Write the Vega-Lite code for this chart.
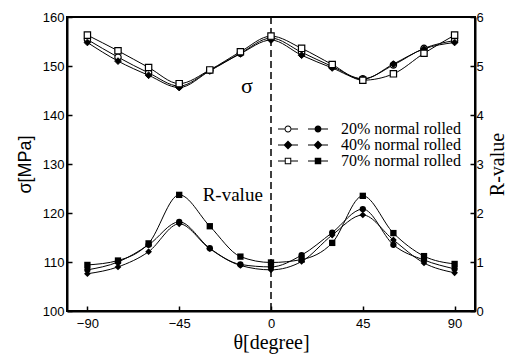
{
  "$schema": "https://vega.github.io/schema/vega-lite/v6.json",
  "width": 408,
  "height": 294,
  "autosize": {"type": "none"},
  "padding": {"left": 67, "top": 17, "right": 43, "bottom": 52},
  "background": "white",
  "config": {
    "view": {"stroke": "black", "strokeWidth": 2},
    "axis": {
      "domainColor": "black", "domainWidth": 2, "tickColor": "black", "tickWidth": 1.5, "tickSize": -5,
      "labelFont": "Liberation Sans", "labelFontSize": 13, "labelColor": "black", "grid": false, "labelOverlap": false,
      "titleColor": "black", "titleFontWeight": "normal"
    }
  },
  "data": {"values": [
    {"theta": -90, "series": "20% normal rolled", "sigma": 155.4, "R": 0.84},
    {"theta": -75, "series": "20% normal rolled", "sigma": 151.8, "R": 1.00},
    {"theta": -60, "series": "20% normal rolled", "sigma": 148.6, "R": 1.35},
    {"theta": -45, "series": "20% normal rolled", "sigma": 145.9, "R": 1.82},
    {"theta": -30, "series": "20% normal rolled", "sigma": 149.1, "R": 1.28},
    {"theta": -15, "series": "20% normal rolled", "sigma": 152.6, "R": 0.95},
    {"theta": 0, "series": "20% normal rolled", "sigma": 155.7, "R": 0.90},
    {"theta": 15, "series": "20% normal rolled", "sigma": 152.8, "R": 1.14},
    {"theta": 30, "series": "20% normal rolled", "sigma": 149.9, "R": 1.60},
    {"theta": 45, "series": "20% normal rolled", "sigma": 147.4, "R": 2.08},
    {"theta": 60, "series": "20% normal rolled", "sigma": 150.2, "R": 1.35},
    {"theta": 75, "series": "20% normal rolled", "sigma": 153.6, "R": 1.04},
    {"theta": 90, "series": "20% normal rolled", "sigma": 155.2, "R": 0.86},
    {"theta": -90, "series": "40% normal rolled", "sigma": 154.8, "R": 0.76},
    {"theta": -75, "series": "40% normal rolled", "sigma": 151.0, "R": 0.90},
    {"theta": -60, "series": "40% normal rolled", "sigma": 148.1, "R": 1.21},
    {"theta": -45, "series": "40% normal rolled", "sigma": 145.6, "R": 1.78},
    {"theta": -30, "series": "40% normal rolled", "sigma": 149.0, "R": 1.27},
    {"theta": -15, "series": "40% normal rolled", "sigma": 152.5, "R": 0.93},
    {"theta": 0, "series": "40% normal rolled", "sigma": 155.3, "R": 0.84},
    {"theta": 15, "series": "40% normal rolled", "sigma": 152.2, "R": 1.01},
    {"theta": 30, "series": "40% normal rolled", "sigma": 149.6, "R": 1.55},
    {"theta": 45, "series": "40% normal rolled", "sigma": 147.3, "R": 1.96},
    {"theta": 60, "series": "40% normal rolled", "sigma": 150.4, "R": 1.45},
    {"theta": 75, "series": "40% normal rolled", "sigma": 153.5, "R": 0.98},
    {"theta": 90, "series": "40% normal rolled", "sigma": 154.8, "R": 0.78},
    {"theta": -90, "series": "70% normal rolled", "sigma": 156.3, "R": 0.94},
    {"theta": -75, "series": "70% normal rolled", "sigma": 153.1, "R": 1.03},
    {"theta": -60, "series": "70% normal rolled", "sigma": 149.7, "R": 1.38},
    {"theta": -45, "series": "70% normal rolled", "sigma": 146.4, "R": 2.37},
    {"theta": -30, "series": "70% normal rolled", "sigma": 149.2, "R": 1.73},
    {"theta": -15, "series": "70% normal rolled", "sigma": 152.9, "R": 1.11},
    {"theta": 0, "series": "70% normal rolled", "sigma": 156.1, "R": 0.99},
    {"theta": 15, "series": "70% normal rolled", "sigma": 153.6, "R": 1.05},
    {"theta": 30, "series": "70% normal rolled", "sigma": 150.3, "R": 1.39},
    {"theta": 45, "series": "70% normal rolled", "sigma": 147.1, "R": 2.35},
    {"theta": 60, "series": "70% normal rolled", "sigma": 148.4, "R": 1.59},
    {"theta": 75, "series": "70% normal rolled", "sigma": 152.6, "R": 1.12},
    {"theta": 90, "series": "70% normal rolled", "sigma": 156.3, "R": 0.96}
  ]},
  "layer": [
    {
      "layer": [
        {
          "mark": {"type": "line", "color": "black", "strokeWidth": 1, "interpolate": "monotone"},
          "encoding": {
            "x": {
              "field": "theta", "type": "quantitative",
              "scale": {"domain": [-100, 100], "nice": false, "zero": false},
              "axis": {
                "values": [-90, -45, 0, 45, 90],
                "format": "d",
                "labelOverlap": false,
                "labelFlush": false,
                "labelPadding": 11,
                "title": "θ[degree]", "titleFont": "Liberation Serif", "titleFontSize": 20, "titlePadding": 2
              }
            },
            "y": {
              "field": "sigma", "type": "quantitative",
              "scale": {"domain": [100, 160], "nice": false, "zero": false},
              "axis": {
                "orient": "left",
                "values": [100, 105, 110, 115, 120, 125, 130, 135, 140, 145, 150, 155, 160],
                "labelExpr": "datum.value % 10 === 0 ? datum.label : ''",
                "labelOverlap": false,
                "labelPadding": 8,
                "title": "σ[MPa]", "titleFont": "Liberation Sans", "titleFontSize": 18, "titlePadding": 8
              }
            },
            "detail": {"field": "series"}
          }
        },
        {
          "transform": [{"filter": "datum.theta === 0 && datum.series === '20% normal rolled'"}],
          "mark": {"type": "rule", "color": "black", "strokeWidth": 1.5, "strokeDash": [7, 4]},
          "encoding": {"x": {"field": "theta", "type": "quantitative"}}
        },
        {
          "transform": [{"filter": "datum.series === '20% normal rolled'"}],
          "mark": {"type": "point", "shape": "circle", "filled": true, "fill": "white", "stroke": "black", "strokeWidth": 1.2, "size": 40, "opacity": 1},
          "encoding": {"x": {"field": "theta", "type": "quantitative"}, "y": {"field": "sigma", "type": "quantitative"}}
        },
        {
          "transform": [{"filter": "datum.series === '40% normal rolled'"}],
          "mark": {"type": "point", "shape": "diamond", "filled": true, "fill": "black", "stroke": "black", "strokeWidth": 1, "size": 45, "opacity": 1},
          "encoding": {"x": {"field": "theta", "type": "quantitative"}, "y": {"field": "sigma", "type": "quantitative"}}
        },
        {
          "transform": [{"filter": "datum.series === '70% normal rolled'"}],
          "mark": {"type": "point", "shape": "square", "filled": true, "fill": "white", "stroke": "black", "strokeWidth": 1.2, "size": 40, "opacity": 1},
          "encoding": {"x": {"field": "theta", "type": "quantitative"}, "y": {"field": "sigma", "type": "quantitative"}}
        },
        {
          "transform": [{"filter": "datum.theta === 0 && datum.series === '20% normal rolled'"}],
          "mark": {"type": "text", "text": "σ", "font": "Liberation Serif", "fontSize": 22, "color": "black"},
          "encoding": {"x": {"datum": -11.8}, "y": {"datum": 145.9}}
        },
        {
          "transform": [{"filter": "datum.theta === 0 && datum.series === '20% normal rolled'"}],
          "mark": {"type": "text", "text": "R-value", "font": "Liberation Serif", "fontSize": 19, "color": "black", "align": "right"},
          "encoding": {"x": {"datum": -4}, "y": {"datum": 123.7}}
        }
      ]
    },
    {
      "layer": [
        {
          "mark": {"type": "line", "color": "black", "strokeWidth": 1, "interpolate": "monotone"},
          "encoding": {
            "x": {"field": "theta", "type": "quantitative"},
            "y": {
              "field": "R", "type": "quantitative",
              "scale": {"domain": [0, 6], "nice": false},
              "axis": {
                "orient": "right",
                "values": [0, 0.5, 1, 1.5, 2, 2.5, 3, 3.5, 4, 4.5, 5, 5.5, 6],
                "labelExpr": "datum.value % 1 === 0 ? format(datum.value, 'd') : ''",
                "labelOverlap": false,
                "labelPadding": 6,
                "title": "R-value", "titleFont": "Liberation Serif", "titleFontSize": 20, "titlePadding": 4, "titleAngle": 270, "titleBaseline": "top"
              }
            },
            "detail": {"field": "series"}
          }
        },
        {
          "transform": [{"filter": "datum.series === '20% normal rolled'"}],
          "mark": {"type": "point", "shape": "circle", "filled": true, "color": "black", "size": 40, "opacity": 1},
          "encoding": {"x": {"field": "theta", "type": "quantitative"}, "y": {"field": "R", "type": "quantitative"}}
        },
        {
          "transform": [{"filter": "datum.series === '40% normal rolled'"}],
          "mark": {"type": "point", "shape": "diamond", "filled": true, "color": "black", "size": 45, "opacity": 1},
          "encoding": {"x": {"field": "theta", "type": "quantitative"}, "y": {"field": "R", "type": "quantitative"}}
        },
        {
          "transform": [{"filter": "datum.series === '70% normal rolled'"}],
          "mark": {"type": "point", "shape": "square", "filled": true, "color": "black", "size": 40, "opacity": 1},
          "encoding": {"x": {"field": "theta", "type": "quantitative"}, "y": {"field": "R", "type": "quantitative"}}
        },
        {
          "mark": {"type": "point", "filled": true, "fill": "black", "opacity": 0},
          "encoding": {
            "x": {"field": "theta", "type": "quantitative"},
            "y": {"field": "R", "type": "quantitative"},
            "shape": {
              "field": "series", "type": "nominal",
              "scale": {"range": [
                "M-5,-0.1H-3.7V0.1H-5ZM-2.3,-0.1H-1V0.1H-2.3ZM-2.3,0A0.7,0.7,0,1,1,-3.7,0A0.7,0.7,0,1,1,-2.3,0ZM-2.5,0A0.5,0.5,0,1,0,-3.5,0A0.5,0.5,0,1,0,-2.5,0ZM1,-0.1H2.3V0.1H1ZM3.7,-0.1H5V0.1H3.7ZM3.7,0A0.7,0.7,0,1,1,2.3,0A0.7,0.7,0,1,1,3.7,0Z",
                "M-5,-0.1H-1V0.1H-5ZM1,-0.1H5V0.1H1ZM-3,-0.9L-2.1,0L-3,0.9L-3.9,0ZM3,-0.9L3.9,0L3,0.9L2.1,0Z",
                "M-5,-0.1H-3.65V0.1H-5ZM-2.35,-0.1H-1V0.1H-2.35ZM-3.65,-0.65H-2.35V0.65H-3.65ZM-3.45,-0.45V0.45H-2.55V-0.45ZM1,-0.1H5V0.1H1ZM2.35,-0.65H3.65V0.65H2.35Z"
              ]},
              "legend": {
                "orient": "none", "legendX": 228, "legendY": 104, "title": null, "padding": 0,
                "symbolSize": 100, "symbolFillColor": "black", "symbolStrokeWidth": 0, "symbolOpacity": 1,
                "labelFont": "Liberation Serif", "labelFontSize": 16, "labelColor": "black", "labelOffset": 30, "rowPadding": 0
              }
            }
          }
        }
      ]
    }
  ],
  "resolve": {"scale": {"y": "independent"}}
}
